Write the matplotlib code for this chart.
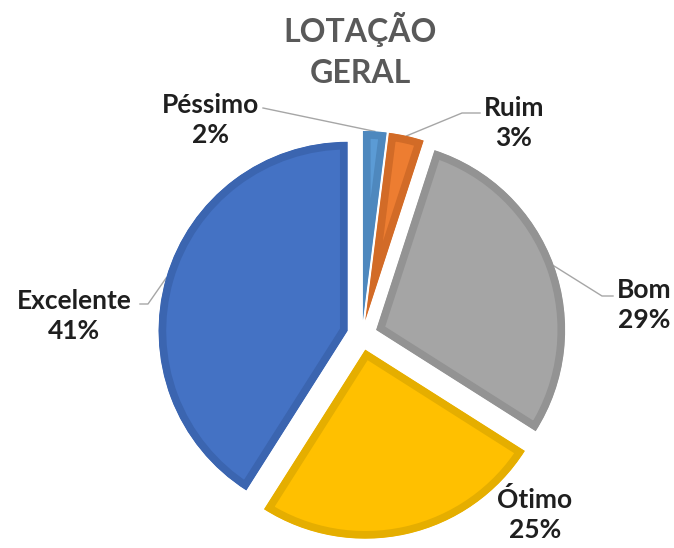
import matplotlib.pyplot as plt
import numpy as np

# data (clockwise from the top)
categorias = ['Péssimo', 'Ruim', 'Bom', 'Ótimo', 'Excelente']
percentuais = [2, 3, 29, 25, 41]
cores = ['#5B9BD5', '#ED7D31', '#A5A5A5', '#FFC000', '#4472C4']
bordas = ['#4E88BE', '#D26B27', '#939393', '#E5AE00', '#3B65B0']

W, H = 674, 548
CX, CY = 362, 335      # pie centre in pixels (from top-left)
R_PX = 189.0           # radius in pixels


def px(x, y):
    # pixel position -> axis units (radius = 1)
    return (x - CX) / R_PX, (CY - y) / R_PX


# label centres and leader elbow / end points, in pixels
label_pos = {
    'Péssimo': (211, 120),
    'Ruim': (514, 123),
    'Bom': (644, 305),
    'Ótimo': (535, 515),
    'Excelente': (74, 316),
}
leader_pts = {
    'Péssimo': [(263, 108)],
    'Ruim': [(462, 113), (480, 113)],
    'Bom': [(602, 296), (613, 296)],
    'Excelente': [(148, 304), (140, 304)],
}

plt.rcParams['font.family'] = ['Lato', 'DejaVu Sans']

fig = plt.figure(figsize=(W / 100, H / 100), dpi=100)
ax = fig.add_axes([0, 0, 1, 1])

wedges, _ = ax.pie(percentuais, colors=cores, startangle=90, counterclock=False,
                   explode=[15 / R_PX] * len(percentuais), radius=1.0,
                   wedgeprops=dict(linewidth=0))

x0, y0 = px(0, H)
x1, y1 = px(W, 0)
ax.set_xlim(x0, x1)
ax.set_ylim(y0, y1)
ax.set_aspect('equal')
ax.axis('off')

# darker border drawn only on the inside of each slice
for w, ec in zip(wedges, bordas):
    w.set_edgecolor(ec)
    w.set_linewidth(11)
    w.set_joinstyle('miter')
    w.set_clip_on(True)
    w.set_clip_path(w.get_path(), w.get_transform())

for w, cat, pct in zip(wedges, categorias, percentuais):
    lx, ly = px(*label_pos[cat])
    ax.text(lx, ly, f'{cat}\n{pct}%', ha='center', va='center', fontsize=19,
            fontweight='bold', color='#1F1F1F', linespacing=1.3)
    if cat in leader_pts:
        ang = np.deg2rad((w.theta1 + w.theta2) / 2)
        sx = w.center[0] + w.r * np.cos(ang)
        sy = w.center[1] + w.r * np.sin(ang)
        pts = [(sx, sy)] + [px(*p) for p in leader_pts[cat]]
        xs, ys = zip(*pts)
        ax.plot(xs, ys, color='#A6A6A6', lw=1.0, zorder=0)

tx, ty = px(360, 50)
ax.text(tx, ty, 'LOTAÇÃO\nGERAL', ha='center', va='center', fontsize=23,
        fontweight='bold', color='#595959', linespacing=1.5)

fig.savefig('out.png', dpi=100)
